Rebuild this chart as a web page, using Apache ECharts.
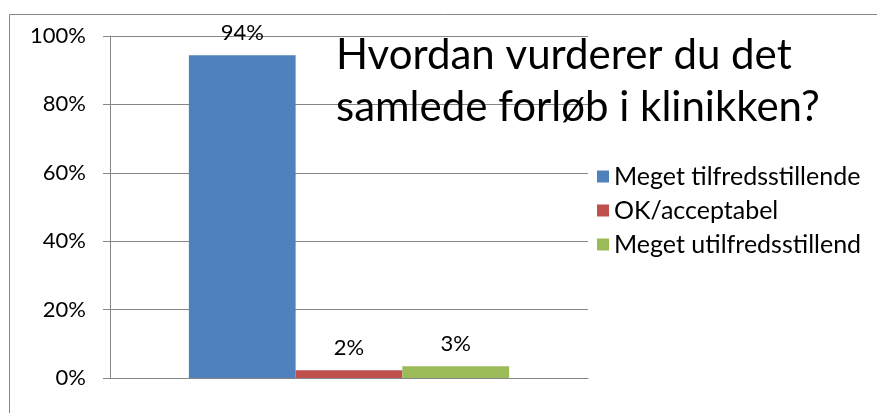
<!DOCTYPE html>
<html><head><meta charset="utf-8">
<script src="https://cdn.jsdelivr.net/npm/echarts@6/dist/echarts.min.js"></script>
<style>html,body{margin:0;padding:0;background:#fff}#c{width:877px;height:413px}</style>
</head><body><div id="c"></div>
<script>
const titleLines = ["Hvordan vurderer du det", "samlede forløb i klinikken?"];
const categories = [""];
const seriesNames = ["Meget tilfredsstillende", "OK/acceptabel", "Meget utilfredsstillend"];
const seriesValues = [[0.944], [0.023], [0.034]];
const seriesColors = ["#4F81BD", "#C0504D", "#9BBB59"];
const yTicks = [0, 0.2, 0.4, 0.6, 0.8, 1];

const FONT = "Lato, 'Open Sans', sans-serif";
const chart = echarts.init(document.getElementById('c'), null, {renderer: 'canvas'});
const pct = v => Math.round(v * 100) + '%';

chart.setOption({
  animation: false,
  backgroundColor: '#fff',
  textStyle: {fontFamily: FONT},
  graphic: [{
    type: 'rect', left: 7, top: 12, z: -10,
    shape: {width: 900, height: 430},
    style: {fill: 'none', stroke: '#868686', lineWidth: 1}
  }],
  title: {
    text: titleLines.join('\n'),
    left: 331, top: 24, z: 10,
    textStyle: {fontFamily: FONT, fontSize: 42, fontWeight: 'normal', color: '#000', lineHeight: 52}
  },
  legend: {
    orient: 'vertical', left: 592, top: 159,
    icon: 'rect', itemWidth: 12, itemHeight: 12, itemGap: 9,
    data: seriesNames,
    textStyle: {fontFamily: FONT, fontSize: 25, color: '#000'}
  },
  grid: {left: 110, right: 289, top: 36, bottom: 35, containLabel: false},
  xAxis: {
    type: 'category', data: categories,
    axisLine: {lineStyle: {color: '#868686', width: 1}},
    axisTick: {show: false}, axisLabel: {show: false}
  },
  yAxis: {
    type: 'value', min: yTicks[0], max: yTicks[yTicks.length - 1], interval: 0.2,
    axisLine: {show: true, lineStyle: {color: '#868686'}},
    axisTick: {show: true, length: 7, lineStyle: {color: '#868686'}},
    axisLabel: {formatter: pct, fontFamily: FONT, fontSize: 22, color: '#000', margin: 24},
    splitLine: {lineStyle: {color: '#868686', width: 1}}
  },
  series: seriesNames.map((n, i) => ({
    name: n, type: 'bar', data: seriesValues[i],
    barGap: '0%', barCategoryGap: '33%',
    itemStyle: {color: seriesColors[i]},
    label: {show: true, position: 'top', distance: 11, formatter: p => pct(p.value),
      fontFamily: FONT, fontSize: 22, color: '#000'}
  }))
});
</script></body></html>
